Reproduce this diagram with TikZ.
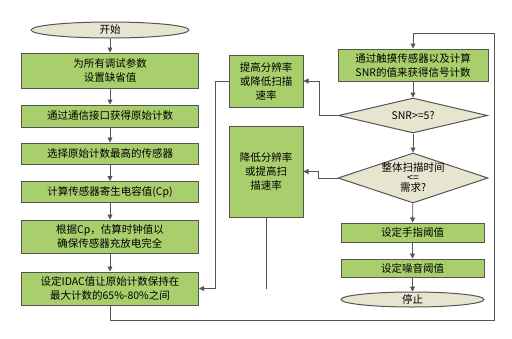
\documentclass[tikz,border=0pt]{standalone}
\usepackage{fontspec}
\setmainfont{Noto Sans CJK SC}
\usetikzlibrary{arrows.meta,positioning,shapes.geometric}
\definecolor{procgreen}{RGB}{168,207,108}
\definecolor{decbeige}{RGB}{231,229,207}
\definecolor{edgegray}{RGB}{85,85,85}

\begin{document}
\begin{tikzpicture}[x=1pt,y=-1pt,
    font=\fontsize{10.5}{14}\selectfont,
    >={Triangle[length=5pt,width=5pt]},
    proc/.style={draw=edgegray, fill=procgreen, line width=1pt, inner sep=0pt, align=center},
    term/.style={ellipse, draw=edgegray, fill=decbeige, line width=1pt, inner sep=0pt},
    decide/.style={diamond, draw=edgegray, fill=decbeige, line width=1pt, inner sep=0pt, aspect=4},
    link/.style={draw=edgegray, line width=0.8pt}]
    \useasboundingbox (0,0) rectangle (512,338);

    % left column
    \node[term, minimum width=158pt, minimum height=16pt] (start) at (110,30) {开始};
    \node[proc, minimum width=177pt, minimum height=35pt] (defaults) at (110,70.5) {为所有调试参数\\设置缺省值};
    \node[proc, minimum width=177pt, minimum height=22pt] (rawcount) at (110,116) {通过通信接口获得原始计数};
    \node[proc, minimum width=177pt, minimum height=21pt] (maxsensor) at (110,153.5) {选择原始计数最高的传感器};
    \node[proc, minimum width=177pt, minimum height=21pt] (cp) at (110,192) {计算传感器寄生电容值(Cp)};
    \node[proc, minimum width=177pt, minimum height=33pt] (clock) at (110,236.5) {根据Cp，估算时钟值以\\确保传感器充放电完全};
    \node[proc, minimum width=177pt, minimum height=33pt] (idac) at (110,288.5) {设定IDAC值让原始计数保持在\\最大计数的65\%-80\%之间};

    % middle column
    \node[proc, minimum width=74pt, minimum height=52pt] (raise) at (266,81) {提高分辨率\\或降低扫描\\速率};
    \node[proc, minimum width=74pt, minimum height=91pt] (lower) at (266,171.5) {降低分辨率\\或提高扫\\描速率};

    % right column
    \node[proc, minimum width=150pt, minimum height=32pt] (signal) at (413,65) {通过触摸传感器以及计算\\SNR的值来获得信号计数};
    \node[decide, minimum width=149pt, minimum height=35pt, label={center:SNR>=5?}] (snr) at (413,115.5) {};
    \node[decide, minimum width=150pt, minimum height=50pt,
          label={[align=center, font=\fontsize{10.5}{10}\selectfont]center:整体扫描时间\\<=\\需求?}] (scan) at (413,178) {};
    \node[proc, minimum width=143pt, minimum height=19pt] (finger) at (412.5,232.5) {设定手指阈值};
    \node[proc, minimum width=143pt, minimum height=18pt] (noise) at (412.5,268) {设定噪音阈值};
    \node[term, minimum width=143pt, minimum height=15pt] (stop) at (412.5,299.5) {停止};

    % return path
    \coordinate (low) at (110,320);
    \coordinate (loopcorner) at (494,33);

    % main flow
    \draw[link,->] (start) -- (defaults);
    \draw[link,->] (defaults) -- (rawcount);
    \draw[link,->] (rawcount) -- (maxsensor);
    \draw[link,->] (maxsensor) -- (cp);
    \draw[link,->] (cp) -- (clock);
    \draw[link,->] (clock) -- (idac);
    \draw[link,->] (idac.south) -- (low) -| (loopcorner) -| (signal.north);
    \draw[link,->] (signal) -- (snr);
    \draw[link,->] (snr) -- (scan);
    \draw[link,->] (scan) -- (finger);
    \draw[link,->] (finger) -- (noise);
    \draw[link,->] (noise) -- (stop);

    % branches
    \draw[link,->] (snr.west) -- ++(-19,0) |- (raise.east);
    \draw[link,->] (scan.west) -- ++(-19,0) |- (lower.east);
    \draw[link,->] (raise.west) -- ++(-13,0) |- (idac.east);
    \draw[link] (lower.south) -- (lower.south |- idac.east);
\end{tikzpicture}
\end{document}
